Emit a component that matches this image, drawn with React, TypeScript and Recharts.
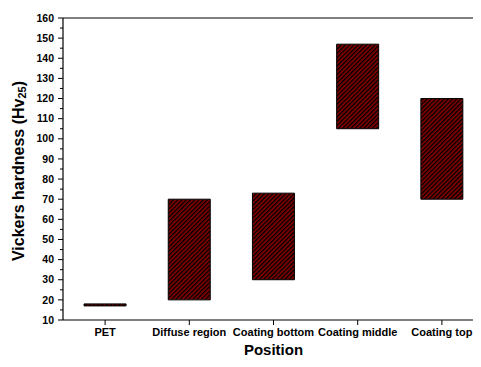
import React from 'react';
import { BarChart, Bar, XAxis, YAxis, ReferenceLine } from 'recharts';

const positions = ['PET', 'Diffuse region', 'Coating bottom', 'Coating middle', 'Coating top'];
const lowValues = [17, 20, 30, 105, 70];
const highValues = [18, 70, 73, 147, 120];
const yTicks = [10, 15, 20, 25, 30, 35, 40, 45, 50, 55, 60, 65, 70, 75, 80, 85, 90, 95, 100, 105, 110, 115, 120, 125, 130, 135, 140, 145, 150, 155, 160];

const data = positions.map((name, i) => ({ name, range: [lowValues[i], highValues[i]] }));

const FONT = '"Liberation Sans", Arial, sans-serif';

const YTick = (props: any) => {
  const { x, y, payload } = props;
  const major = payload.value % 10 === 0;
  return (
    <g>
      <line x1={x} x2={x - (major ? 5 : 3)} y1={y} y2={y} stroke="#000" strokeWidth={1} />
      {major && (
        <text x={x - 9} y={y} dy="0.35em" textAnchor="end" fontFamily={FONT} fontWeight="bold" fontSize={10.5} fill="#000">
          {payload.value}
        </text>
      )}
    </g>
  );
};

const YLabel = (props: any) => {
  const vb = props.viewBox || { x: 0, y: 10, width: 55, height: 302 };
  const cx = 10;
  const cy = vb.y + vb.height / 2 + 2;
  return (
    <text
      x={cx}
      y={cy}
      transform={`rotate(-90, ${cx}, ${cy})`}
      textAnchor="middle"
      dominantBaseline="central"
      fontFamily={FONT}
      fontWeight="bold"
      fontSize={16}
      fill="#000"
    >
      Vickers hardness (Hv
      <tspan dy={4} fontSize={11}>25</tspan>
      <tspan dy={-4}>)</tspan>
    </text>
  );
};

export default function App() {
  return (
    <div style={{ width: 473, height: 359, overflow: 'hidden' }}>
      <BarChart
        width={476}
        height={359}
        data={data}
        margin={{ top: 10, right: 0, left: 0, bottom: 0 }}
        barCategoryGap="25%"
      >
        <defs>
          <pattern id="hatch" patternUnits="userSpaceOnUse" width={3} height={3} patternTransform="rotate(45)">
            <rect width={3} height={3} fill="#8b0000" />
            <rect width={1.4} height={3} fill="#000" />
          </pattern>
        </defs>
        <XAxis
          dataKey="name"
          interval={0}
          tickSize={5}
          tickMargin={3}
          axisLine={{ stroke: '#000', strokeWidth: 1.2 }}
          tickLine={{ stroke: '#000' }}
          tick={{ fill: '#000', fontFamily: FONT, fontWeight: 'bold', fontSize: 11 }}
          height={47}
          label={{ value: 'Position', position: 'insideBottom', offset: 12, fill: '#000', fontFamily: FONT, fontWeight: 'bold', fontSize: 15 }}
        />
        <YAxis
          type="number"
          domain={[10, 160]}
          ticks={yTicks}
          interval={0}
          width={55}
          tickSize={0}
          tickMargin={0}
          tickLine={false}
          axisLine={{ stroke: '#000', strokeWidth: 1.2 }}
          tick={<YTick />}
          label={<YLabel />}
        />
        <ReferenceLine y={160} stroke="#000" strokeWidth={1.2} />
        <Bar dataKey="range" fill="url(#hatch)" stroke="#000" strokeWidth={1} isAnimationActive={false} />
      </BarChart>
    </div>
  );
}
